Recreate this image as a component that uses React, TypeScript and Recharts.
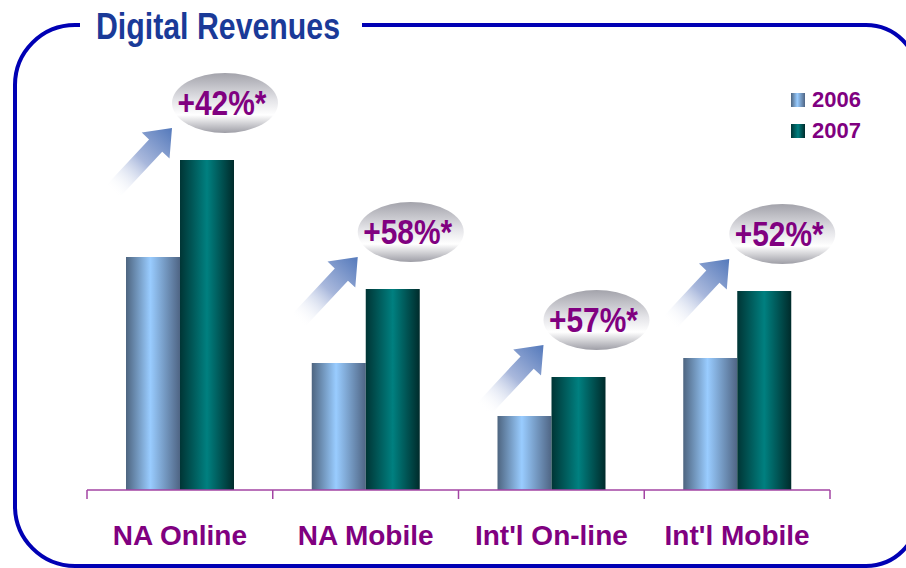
import React from 'react';
import { BarChart, Bar, XAxis, YAxis, Legend, LabelList } from 'recharts';

// values (revenue index, same scale for both years)
const categories = ['NA Online', 'NA Mobile', "Int'l On-line", "Int'l Mobile"];
const revenue2006 = [233, 127, 74, 132];
const revenue2007 = [330, 201, 113, 199];
const growthLabels = ['+42%*', '+58%*', '+57%*', '+52%*'];
const seriesNames = ['2006', '2007'];

const data = categories.map((name, i) => ({
  name,
  y2006: revenue2006[i],
  y2007: revenue2007[i],
}));

const W = 906;
const H = 568;
const MARGIN = { top: 140, right: 76, bottom: 18, left: 87 };
const BAND = (W - MARGIN.left - MARGIN.right) / categories.length;
const PURPLE = '#800080';
const AXIS = '#a344a3';
const FONT = '"Liberation Sans", Arial, sans-serif';

const swatch: Record<string, string> = {
  '2006': 'linear-gradient(to right, #4e6580, #99ccff 45%, #4f6584)',
  '2007': 'linear-gradient(to right, #003535, #008080 50%, #002b2b)',
};

// frame round the slide, open at the top for the title; right side runs off the page
const FRAME =
  'M 75 25 L 866 25 A 52 52 0 0 1 918 77 L 918 514 A 52 52 0 0 1 866 566 ' +
  'L 75 566 A 60 60 0 0 1 15 506 L 15 85 A 60 60 0 0 1 75 25 Z';

const CategoryTick = (props: any) => {
  const { x, y, payload, index } = props;
  const half = payload && payload.offset ? payload.offset : BAND / 2;
  return (
    <g>
      <line x1={x - half} x2={x - half} y1={y} y2={y + 9} stroke={AXIS} strokeWidth={1.5} />
      {index === categories.length - 1 && (
        <line x1={x + half} x2={x + half} y1={y} y2={y + 9} stroke={AXIS} strokeWidth={1.5} />
      )}
      <text
        x={x}
        y={y + 55}
        textAnchor="middle"
        fill={PURPLE}
        fontSize={28}
        fontWeight="bold"
        fontFamily={FONT}
      >
        {payload.value}
      </text>
    </g>
  );
};

// growth badge: faded arrow + silver ellipse above each 2007 bar
const GrowthBadge = (props: any) => {
  const { x, y, index } = props;
  const cx = x + 45;
  const cy = y - 57;
  const tipX = x - 8;
  const tipY = y - 32;
  const L = 88;
  const arrow = `0,0 -24,-19 -24,-9 ${-L},-9 ${-L},9 -24,9 -24,19`;
  return (
    <g>
      <polygon
        points={arrow}
        transform={`translate(${tipX} ${tipY}) rotate(-47)`}
        fill="url(#arrowFade)"
      />
      <ellipse cx={cx} cy={cy} rx={53} ry={30} fill="url(#silver)" />
      <text
        x={cx - 3}
        y={cy + 12}
        textAnchor="middle"
        textLength={89}
        lengthAdjust="spacingAndGlyphs"
        fill={PURPLE}
        fontSize={35}
        fontWeight="bold"
        fontFamily={FONT}
      >
        {growthLabels[index]}
      </text>
    </g>
  );
};

const LegendContent = (props: any) => {
  const items = props.payload || [];
  return (
    <div style={{ fontFamily: FONT }}>
      {items.map((it: any) => (
        <div key={it.value} style={{ display: 'flex', alignItems: 'center', height: 31 }}>
          <span
            style={{
              display: 'inline-block',
              width: 14,
              height: 14,
              background: swatch[it.value],
              marginRight: 7,
            }}
          />
          <span style={{ color: PURPLE, fontWeight: 'bold', fontSize: 22, lineHeight: '31px' }}>
            {it.value}
          </span>
        </div>
      ))}
    </div>
  );
};

export default function App() {
  return (
    <div style={{ position: 'absolute', left: 0, top: 0, width: W, height: H, background: '#fff', fontFamily: FONT, overflow: 'hidden' }}>
      <svg width={W} height={H} style={{ position: 'absolute', left: 0, top: 0 }}>
        <path d={FRAME} fill="none" stroke="#0000b4" strokeWidth={4} />
        <rect x={80} y={15} width={282} height={20} fill="#fff" />
        <text
          x={96}
          y={39}
          textLength={244}
          lengthAdjust="spacingAndGlyphs"
          fill="#1a3a98"
          fontSize={36}
          fontWeight="bold"
          fontFamily={FONT}
        >
          Digital Revenues
        </text>
      </svg>
      <div style={{ position: 'absolute', left: 0, top: 0 }}>
        <BarChart width={W} height={H} data={data} margin={MARGIN} barCategoryGap={39} barGap={0}>
          <defs>
            <linearGradient id="g2006" x1="0" y1="0" x2="1" y2="0">
              <stop offset="0" stopColor="#4e6580" />
              <stop offset="0.45" stopColor="#99ccff" />
              <stop offset="1" stopColor="#4f6584" />
            </linearGradient>
            <linearGradient id="g2007" x1="0" y1="0" x2="1" y2="0">
              <stop offset="0" stopColor="#003535" />
              <stop offset="0.5" stopColor="#008080" />
              <stop offset="1" stopColor="#002b2b" />
            </linearGradient>
            <linearGradient id="silver" x1="0" y1="0" x2="0" y2="1">
              <stop offset="0" stopColor="#a3a3ab" />
              <stop offset="0.45" stopColor="#e4e4e8" />
              <stop offset="0.7" stopColor="#ffffff" />
              <stop offset="1" stopColor="#9e9ea6" />
            </linearGradient>
            <linearGradient id="arrowFade" x1="0" y1="0" x2="1" y2="0">
              <stop offset="0" stopColor="#ffffff" stopOpacity={0} />
              <stop offset="0.5" stopColor="#a9b8dc" />
              <stop offset="1" stopColor="#5479bb" />
            </linearGradient>
          </defs>
          <XAxis
            dataKey="name"
            height={60}
            interval={0}
            tickSize={0}
            tickMargin={0}
            tickLine={false}
            axisLine={{ stroke: AXIS, strokeWidth: 1.5 }}
            tick={<CategoryTick />}
          />
          <YAxis hide domain={[0, 350]} />
          <Legend
            layout="vertical"
            verticalAlign="middle"
            align="center"
            content={<LegendContent />}
            wrapperStyle={{ position: 'absolute', top: 84, left: 791, width: 100 }}
          />
          <Bar dataKey="y2006" name={seriesNames[0]} fill="url(#g2006)" isAnimationActive={false} />
          <Bar dataKey="y2007" name={seriesNames[1]} fill="url(#g2007)" isAnimationActive={false}>
            <LabelList dataKey="y2007" content={<GrowthBadge />} />
          </Bar>
        </BarChart>
      </div>
    </div>
  );
}
